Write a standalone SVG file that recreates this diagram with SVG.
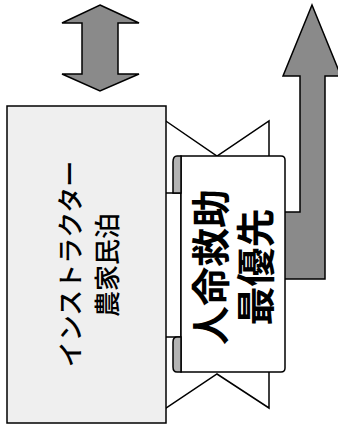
<svg xmlns="http://www.w3.org/2000/svg" width="338" height="425" viewBox="0 0 338 425">
<style>
.ln{stroke:#000;stroke-width:1.5;stroke-linejoin:miter}
.arw{fill:#8a8a8a}
.wh{fill:#fff}
.curl{fill:#b4b4b4}
.box{fill:#efefef}
.t1{font-family:"Noto Sans CJK JP","Noto Sans",sans-serif;font-size:26px;font-weight:500;fill:#000}
.t2{font-family:"Noto Sans CJK JP","Noto Sans",sans-serif;font-size:39px;font-weight:bold;fill:#000}
</style>
<rect width="338" height="425" fill="#fff"/>
<g id="double-arrow">
<path class="ln arw" d="M100,5 L139,23 L118,23 L118,74 L139,74 L100,91 L62,74 L82,74 L82,23 L62,23 Z"/>
</g>
<g id="ribbon">
<path class="ln wh" d="M160,117 L217,156 L269,121 L269,408 L217,374 L160,412 Z"/>
</g>
<g id="up-arrow">
<path class="ln arw" d="M312,5 L341,76 L325,76 L325,279 L275,279 L275,212 L300,212 L300,76 L283,76 Z"/>
</g>
<g id="instructor-box">
<rect class="ln wh" x="150" y="193" width="31" height="144"/>
<rect class="ln box" x="7" y="106" width="159" height="317"/>
<text class="t1" x="68" y="264" transform="rotate(-90 68 264)" text-anchor="middle" dominant-baseline="central">インストラクター</text>
<text class="t1" x="105" y="265" transform="rotate(-90 105 265)" text-anchor="middle" dominant-baseline="central">農家民泊</text>
</g>
<g id="scroll">
<path class="ln wh" d="M181,156 H281 Q285,156 285,160 V368 Q285,372 281,372 H181 Z"/>
<path class="ln curl" d="M181,156 H177 Q173,156 173,162 V193 H181 Z"/>
<path class="ln curl" d="M181,337 H177 Q173,337 173,342 V367 Q173,372 177,372 H181 Z"/>
<text class="t2" x="208" y="267" transform="rotate(-90 208 267)" text-anchor="middle" dominant-baseline="central">人命救助</text>
<text class="t2" x="253" y="267" transform="rotate(-90 253 267)" text-anchor="middle" dominant-baseline="central">最優先</text>
</g>
</svg>
